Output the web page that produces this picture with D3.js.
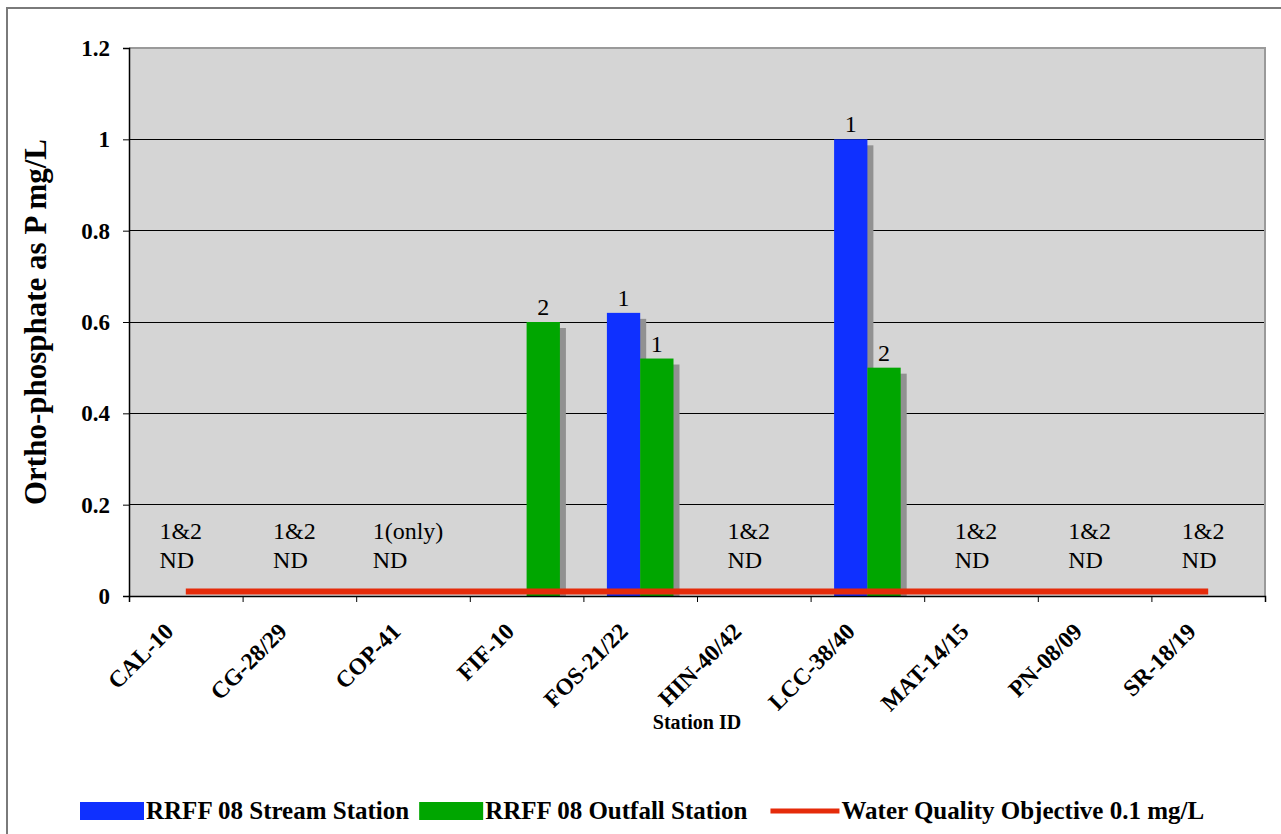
<!DOCTYPE html>
<html>
<head>
<meta charset="utf-8">
<script src="https://cdn.jsdelivr.net/npm/d3@7"></script>
<style>
  html, body { margin: 0; padding: 0; background: #fff; }
  svg { display: block; }
  svg text { font-family: "Liberation Serif", "Times New Roman", Times, serif; }
</style>
</head>
<body>
<svg id="chart" width="1281" height="834"></svg>
<script>
// Station categories along the x axis
const stations = ["CAL-10", "CG-28/29", "COP-41", "FIF-10", "FOS-21/22",
                  "HIN-40/42", "LCC-38/40", "MAT-14/15", "PN-08/09", "SR-18/19"];
// Ortho-phosphate as P (mg/L); null = no bar drawn
const streamValues  = [null, null, null, null, 0.62, null, 1.0, null, null, null];
const outfallValues = [null, null, null, 0.60, 0.52, null, 0.50, null, null, null];
// Sample-number annotations above each bar
const streamNotes  = [null, null, null, null, "1", null, "1", null, null, null];
const outfallNotes = [null, null, null, "2", "1", null, "2", null, null, null];
// Non-detect notes for stations without bars
const ndNotes = [["1&2", "ND"], ["1&2", "ND"], ["1(only)", "ND"], null, null,
                 ["1&2", "ND"], null, ["1&2", "ND"], ["1&2", "ND"], ["1&2", "ND"]];
// Water quality objective line level as plotted
const objectiveValue = 0.01;
const yTicks = [0, 0.2, 0.4, 0.6, 0.8, 1, 1.2];
const seriesNames = ["RRFF 08 Stream Station", "RRFF 08 Outfall Station", "Water Quality Objective 0.1 mg/L"];

const colors = { stream: "#0f30ff", outfall: "#00a600", objective: "#e52b0a", shadow: "#919191", plot: "#d5d5d5" };
const serif = "'Liberation Serif', 'Times New Roman', Times, serif";

const svg = d3.select("#chart");
const pLeft = 129, pRight = 1265, pTop = 48, pBottom = 596;

const x = d3.scaleBand().domain(stations).range([pLeft, pRight]).padding(0);
const xSub = d3.scaleBand().domain(["stream", "outfall"]).range([-33.3, 33.3]);
const xIdx = d3.scaleLinear().domain([0, stations.length]).range([pLeft, pRight]);
const y = d3.scaleLinear().domain([0, 1.2]).range([pBottom, pTop]);
const cx = d => x(d) + x.bandwidth() / 2;

// outer chart frame
svg.append("rect").attr("x", 7).attr("y", 8).attr("width", 1300).attr("height", 900)
  .attr("fill", "none").attr("stroke", "#7a7a7a").attr("stroke-width", 2);

// plot background
svg.append("rect").attr("x", pLeft).attr("y", pTop).attr("width", pRight - pLeft).attr("height", pBottom - pTop)
  .attr("fill", colors.plot);

// gridlines
svg.append("g").selectAll("line").data(yTicks.filter(t => t > 0 && t < 1.2)).join("line")
  .attr("x1", pLeft).attr("x2", pRight).attr("y1", d => y(d)).attr("y2", d => y(d))
  .attr("stroke", "#000").attr("stroke-width", 1).attr("shape-rendering", "crispEdges");

// plot border (top/right)
svg.append("path").attr("d", `M${pLeft},${pTop}H${pRight}V${pBottom}`)
  .attr("fill", "none").attr("stroke", "#9a9a9a").attr("stroke-width", 2);

svg.append("clipPath").attr("id", "plotClip").append("rect")
  .attr("x", pLeft).attr("y", pTop).attr("width", pRight - pLeft).attr("height", pBottom - pTop);

const barData = [];
stations.forEach((s, i) => {
  if (streamValues[i] != null) barData.push({ s, key: "stream", v: streamValues[i], note: streamNotes[i] });
  if (outfallValues[i] != null) barData.push({ s, key: "outfall", v: outfallValues[i], note: outfallNotes[i] });
});
const bw = xSub.bandwidth();
const barX = d => cx(d.s) + xSub(d.key);

const bars = svg.append("g").attr("clip-path", "url(#plotClip)");
// drop shadows
bars.selectAll("rect.shadow").data(barData).join("rect").attr("class", "shadow")
  .attr("x", d => barX(d) + 6).attr("y", d => y(d.v) + 6)
  .attr("width", bw).attr("height", d => pBottom - y(d.v))
  .attr("fill", colors.shadow);
bars.selectAll("rect.bar").data(barData).join("rect").attr("class", "bar")
  .attr("x", d => barX(d)).attr("y", d => y(d.v))
  .attr("width", bw).attr("height", d => pBottom - y(d.v))
  .attr("fill", d => colors[d.key]);

// sample-number labels over bars
svg.append("g").selectAll("text").data(barData.filter(d => d.note)).join("text")
  .attr("x", d => barX(d) + bw / 2).attr("y", d => y(d.v) - 7)
  .attr("text-anchor", "middle").attr("font-family", serif).attr("font-size", 24).attr("fill", "#000")
  .text(d => d.note);

// non-detect notes
const ndG = svg.append("g");
stations.forEach((s, i) => {
  const lines = ndNotes[i];
  if (!lines) return;
  const t = ndG.append("text").attr("font-family", serif).attr("font-size", 24).attr("fill", "#000");
  lines.forEach((ln, k) => t.append("tspan").attr("y", 539 + k * 29).text(ln));
  const w = d3.max(t.selectAll("tspan").nodes(), n => n.getComputedTextLength());
  t.selectAll("tspan").attr("x", cx(s) - 5 - w / 2);
});

// objective line
const objLine = d3.line().x(d => cx(d)).y(() => y(objectiveValue));
svg.append("path").datum([stations[0], stations[stations.length - 1]])
  .attr("d", objLine).attr("stroke", colors.objective).attr("stroke-width", 6).attr("fill", "none");

// y axis
const yAxis = svg.append("g").attr("transform", `translate(${pLeft},0)`)
  .call(d3.axisLeft(y).tickValues(yTicks).tickSize(6).tickPadding(13)
    .tickFormat(d => d3.format("~g")(d)));
yAxis.attr("font-family", serif);
yAxis.select(".domain").attr("stroke", "#000").attr("stroke-width", 1.5);
yAxis.selectAll("text").attr("font-size", 23).attr("font-weight", "bold")
  .attr("font-family", serif).attr("fill", "#000");

// x axis (ticks on category boundaries)
const xAxis = svg.append("g").attr("transform", `translate(0,${pBottom})`)
  .call(d3.axisBottom(xIdx).ticks(stations.length).tickSize(6).tickFormat(""));
xAxis.select(".domain").attr("stroke", "#000").attr("stroke-width", 1.5);

svg.append("g").selectAll("text").data(stations).join("text")
  .attr("transform", d => `translate(${cx(d) - 11},${633}) rotate(-45)`)
  .attr("text-anchor", "end").attr("font-family", serif).attr("font-size", 23.5).attr("font-weight", "bold").attr("fill", "#000")
  .text(d => d);

// axis titles
svg.append("text").attr("x", (pLeft + pRight) / 2).attr("y", 729)
  .attr("text-anchor", "middle").attr("font-family", serif).attr("font-size", 20).attr("font-weight", "bold").text("Station ID");
svg.append("text").attr("transform", `translate(46,${(pTop + pBottom) / 2}) rotate(-90)`)
  .attr("text-anchor", "middle").attr("font-family", serif).attr("font-size", 31).attr("font-weight", "bold").text("Ortho-phosphate as P mg/L");

// legend
const lg = svg.append("g").attr("font-family", serif).attr("font-size", 25).attr("font-weight", "bold");
let lx = 80;
const ly = 811;
const gaps = [10, 23, 0];
seriesNames.forEach((name, i) => {
  if (i < 2) {
    lg.append("rect").attr("x", lx).attr("y", ly - 9).attr("width", 64).attr("height", 18)
      .attr("fill", i === 0 ? colors.stream : colors.outfall);
  } else {
    lg.append("line").attr("x1", lx).attr("x2", lx + 69).attr("y1", ly).attr("y2", ly)
      .attr("stroke", colors.objective).attr("stroke-width", 5);
  }
  lx += (i < 2 ? 64 : 69) + 2;
  const t = lg.append("text").attr("x", lx).attr("y", ly + 8).text(name);
  lx += t.node().getComputedTextLength() + gaps[i];
});
</script>
</body>
</html>
